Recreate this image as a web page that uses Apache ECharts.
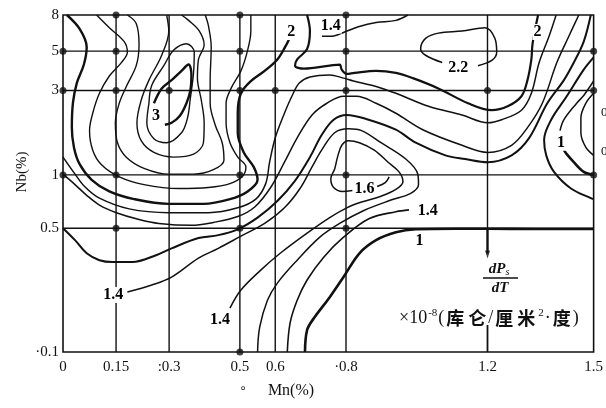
<!DOCTYPE html>
<html><head><meta charset="utf-8">
<script src="https://cdn.jsdelivr.net/npm/echarts@6/dist/echarts.min.js"></script>
<style>html,body{margin:0;padding:0;background:#fff}#c{width:606px;height:408px}</style>
</head><body><div id="c"></div>
<script>
// ---- axis ticks ----
const mnTicks = [0, 0.15, 0.3, 0.5, 0.6, 0.8, 1.2, 1.5];
const mnTickLabels = ['0', '0.15', ':0.3', '0.5', '0.6', '·0.8', '1.2', '1.5'];
const nbTicks = [0.1, 0.5, 1, 3, 5, 8];
const nbTickLabels = ['·0.1', '0.5', '1', '3', '5', '8'];

// ---- measurement points [Mn, Nb] ----
const dotPoints = [[0.15,8],[0.5,8],[0.8,8],[0,5],[0.15,5],[0.5,5],[0.8,5],[1.5,5],
  [0,3],[0.15,3],[0.3,3],[0.5,3],[0.6,3],[0.8,3],[1.2,3],[1.5,3],
  [0,1],[0.15,1],[0.5,1],[0.8,1],[1.5,1],[0.15,0.5],[0.5,0.5],[0.8,0.5],[0.5,0.1]];

// ---- contour lines, points [Mn, Nb] ----
const lineG1 = [[0.011,8],[0.047,6.68],[0.067,5.28],[0.059,4.20],[0.039,3.30],[0.028,2.54],[0.025,1.85],[0.031,1.43],[0.047,1.15],[0.081,0.939],[0.131,0.807],[0.201,0.730],[0.299,0.686],[0.397,0.686],[0.472,0.730],[0.522,0.807],[0.55,0.939],[0.539,1.11],[0.511,1.34],[0.494,1.73],[0.494,2.23],[0.503,2.89],[0.531,3.39],[0.57,3.87],[0.606,4.49],[0.628,5.28],[0.64,5.90]];
const lineG2 = [[0.095,8],[0.131,6.78],[0.173,5.66],[0.182,4.93],[0.165,4.31],[0.131,3.62],[0.103,2.89],[0.084,2.23],[0.075,1.78],[0.084,1.38],[0.109,1.14],[0.159,0.975],[0.229,0.882],[0.327,0.838],[0.411,0.849],[0.472,0.893],[0.508,0.987],[0.517,1.11],[0.494,1.26],[0.472,1.52],[0.461,1.97],[0.461,2.54],[0.475,3.08],[0.503,3.87],[0.522,5.07],[0.531,6.50],[0.531,8]];
const lineG3 = [[0.182,8],[0.207,7.16],[0.215,5.43],[0.207,4.14],[0.179,3.16],[0.159,2.54],[0.148,1.97],[0.154,1.52],[0.179,1.26],[0.229,1.09],[0.299,1.01],[0.369,1.01],[0.425,1.07],[0.455,1.21],[0.45,1.52],[0.43,1.92],[0.416,2.54],[0.416,3.43],[0.419,5.28],[0.411,6.97],[0.402,8]];
const lineG4 = [[0.293,8],[0.299,6.50],[0.279,4.74],[0.243,3.43],[0.221,2.64],[0.209,1.97],[0.221,1.56],[0.257,1.34],[0.313,1.26],[0.369,1.31],[0.397,1.52],[0.399,1.97],[0.391,2.64],[0.38,3.52],[0.383,4.49],[0.399,5.43],[0.385,6.50],[0.355,7.46],[0.335,8]];
const lineG5 = [[0.243,2.54],[0.251,3.21],[0.285,4.14],[0.313,5.07],[0.349,5.51],[0.371,4.93],[0.369,3.77],[0.36,2.71],[0.352,2.10],[0.335,1.73],[0.293,1.52],[0.257,1.60],[0.237,1.97],[0.243,2.54]];
const lineG6 = [[0.257,2.54],[0.279,3.08],[0.307,3.43],[0.335,3.87],[0.355,4.20],[0.363,3.67],[0.36,3.00],[0.349,2.54],[0.33,2.15],[0.307,1.97],[0.288,1.92]];
const lineR1 = [[0.69,8],[0.698,6.50],[0.69,5.14],[0.662,4.49],[0.656,4.14],[0.681,3.98],[0.754,4.14],[0.782,4.20],[0.788,3.93],[0.802,3.72],[0.824,3.77],[0.885,3.87],[0.941,3.77],[0.989,3.52],[1.061,3.08],[1.145,2.54],[1.212,2.32],[1.257,2.44],[1.296,2.78],[1.313,3.43],[1.324,4.49],[1.327,5.43],[1.335,6.68],[1.343,8]];
const lineR2 = [[0,1.26],[0.034,1.01],[0.061,0.860],[0.103,0.739],[0.187,0.643],[0.299,0.612],[0.411,0.612],[0.494,0.652],[0.545,0.730],[0.573,0.893],[0.584,1.18],[0.6,1.62],[0.626,2.23],[0.648,2.81],[0.668,3.30],[0.698,3.57],[0.754,3.67],[0.793,3.52],[0.821,3.39],[0.885,3.16],[0.941,2.89],[1.033,2.44],[1.128,2.18],[1.201,1.97],[1.24,2.05],[1.296,2.32],[1.324,2.89],[1.346,4.31],[1.374,6.07],[1.394,8]];
const lineB1 = [[0,1.01],[0.034,0.882],[0.067,0.767],[0.103,0.676],[0.151,0.612],[0.215,0.560],[0.271,0.532],[0.363,0.519],[0.425,0.539],[0.494,0.582],[0.542,0.659],[0.587,0.849],[0.626,1.18],[0.662,1.62],[0.704,2.18],[0.746,2.54],[0.793,2.78],[0.83,2.78],[0.885,2.54],[0.941,2.23],[1.017,1.80],[1.128,1.47],[1.201,1.34],[1.268,1.47],[1.313,1.85],[1.355,2.54],[1.396,4.31],[1.43,6.07],[1.458,8]];
const lineB2 = [[0,0.5],[0.034,0.428],[0.067,0.361],[0.103,0.330],[0.14,0.322],[0.196,0.322],[0.263,0.352],[0.307,0.385],[0.383,0.440],[0.439,0.457],[0.494,0.493],[0.55,0.574],[0.606,0.712],[0.654,0.916],[0.698,1.26],[0.732,1.69],[0.765,2.05],[0.802,2.18],[0.857,2.07],[0.941,1.80],[0.997,1.52],[1.081,1.29],[1.137,1.23],[1.201,1.18],[1.268,1.29],[1.318,1.62],[1.369,2.54],[1.416,3.43],[1.444,4.31],[1.472,5.66],[1.492,8]];
const lineB3 = [[0.182,0.218],[0.251,0.239],[0.307,0.265],[0.383,0.339],[0.439,0.385],[0.503,0.451],[0.57,0.532],[0.626,0.652],[0.67,0.838],[0.704,1.11],[0.732,1.39],[0.768,1.73],[0.807,1.82],[0.844,1.78],[0.899,1.52],[0.969,1.23],[1.003,1.01],[1.005,0.882],[0.983,0.787],[0.927,0.721],[0.849,0.628],[0.782,0.532],[0.726,0.445],[0.662,0.330],[0.606,0.245],[0.578,0.196],[0.556,0.138],[0.55,0.1]];
const lineF2 = [[0.472,0.177],[0.503,0.224],[0.559,0.290],[0.614,0.361],[0.69,0.469],[0.754,0.574],[0.802,0.652],[0.844,0.703],[0.899,0.758],[0.941,0.828],[0.961,0.916],[0.95,1.04],[0.919,1.18],[0.88,1.38],[0.838,1.52],[0.807,1.56],[0.788,1.47],[0.776,1.26],[0.768,1.08],[0.757,0.951],[0.765,0.849],[0.79,0.807],[0.818,0.817]];
const lineF2b = [[0.888,0.860],[0.911,0.904],[0.922,0.975]];
const lineB6 = [[0.634,0.1],[0.642,0.146],[0.662,0.196],[0.69,0.255],[0.737,0.343],[0.793,0.445],[0.866,0.567],[0.941,0.620],[0.978,0.635]];
const lineT1 = [[0.684,0.1],[0.69,0.133],[0.709,0.155],[0.754,0.204],[0.793,0.265],[0.838,0.361],[0.885,0.428],[0.941,0.474],[0.997,0.493],[1.109,0.497],[1.201,0.497],[1.332,0.495],[1.5,0.495]];
const lineH1 = [[0.732,6.07],[0.76,6.07],[0.796,6.41],[0.835,6.87],[0.885,7.26],[0.941,7.46],[0.975,8]];
const lineH2 = [[1.072,4.31],[1.025,4.74],[1.011,5.14],[1.025,5.90],[1.061,6.32],[1.128,6.50],[1.193,6.78],[1.221,5.90],[1.226,4.93],[1.212,4.43],[1.173,4.14]];
const lineR6 = [[1.5,4.61],[1.472,3.93],[1.424,2.78],[1.38,2.05],[1.36,1.58],[1.366,1.29],[1.388,1.04],[1.436,0.838],[1.492,0.739],[1.5,0.730]];
const lineR7a = [[1.5,3.39],[1.472,2.81],[1.452,2.54],[1.416,2.05],[1.405,1.78]];
const lineR7b = [[1.416,1.38],[1.424,1.31],[1.444,1.18],[1.472,1.04],[1.5,1.0]];
const lineR8 = [[1.5,2.89],[1.478,2.54],[1.464,2.10],[1.464,1.73],[1.478,1.43],[1.5,1.29]];

// ---- contour level labels [Mn, Nb, text] ----
const contourLabels = [[0.263,2.15,'3'],[0.645,6.41,'2'],[0.757,6.97,'1.4'],[1.117,4.03,'2.2'],
  [1.341,6.41,'2'],[1.408,1.52,'1'],[0.852,0.838,'1.6'],[1.031,0.628,'1.4'],[1.008,0.425,'1'],
  [0.142,0.210,'1.4'],[0.444,0.151,'1.4']];

const INK = '#111';
function contour(data, width) {
  return {type:'line', data:data, smooth:0.35, symbol:'none', silent:true, z:3,
    lineStyle:{color:INK, width:width}};
}
function near(a, b) { return Math.abs(a - b) < 1e-6; }

const series = [];
// grid lines through the tick values
mnTicks.filter(v => v > 0 && v < 1.5 && !near(v, 1.2)).forEach(v => {
  series.push({type:'line', data:[[v, nbTicks[0]], [v, nbTicks[nbTicks.length-1]]], symbol:'none', silent:true, z:2, lineStyle:{color:INK, width:1.4}});
});
nbTicks.filter(v => v > 0.1 && v < 8).forEach(v => {
  series.push({type:'line', data:[[mnTicks[0], v], [mnTicks[mnTicks.length-1], v]], symbol:'none', silent:true, z:2, lineStyle:{color:INK, width:1.4}});
});
// the 1.2 line, broken by the annotation, with an arrow
series.push({type:'line', data:[[1.2, 8], [1.2, 0.5]], symbol:'none', silent:true, z:2, lineStyle:{color:INK, width:1.4}});
series.push({type:'line', data:[[1.2, 0.5], [1.2, 0.36]], symbol:'none', silent:true, z:2, lineStyle:{color:INK, width:2.4}});
series.push({type:'scatter', data:[[1.2, 0.355]], symbol:'triangle', symbolRotate:180, symbolSize:[5, 8], silent:true, z:2, itemStyle:{color:INK}});
series.push({type:'line', data:[[1.2, 0.142], [1.2, 0.1]], symbol:'none', silent:true, z:2, lineStyle:{color:INK, width:1.8}});

[[lineG1,2.4],[lineG2,1.4],[lineG3,1.4],[lineG4,1.4],[lineG5,1.4],[lineG6,2.4],
 [lineR1,2.2],[lineR2,1.5],[lineB1,1.5],[lineB2,2.0],[lineB3,1.5],[lineF2,1.5],[lineF2b,1.5],
 [lineB6,1.6],[lineT1,2.6],[lineH1,1.5],[lineH2,1.5],[lineR6,2.0],[lineR7a,1.5],[lineR7b,2.6],[lineR8,1.5]]
 .forEach(p => series.push(contour(p[0], p[1])));

series.push({type:'scatter', data:dotPoints, symbolSize:7, silent:true, z:6, itemStyle:{color:INK}, clip:false});
series.push({type:'scatter', silent:true, z:7, symbolSize:2, itemStyle:{color:'rgba(255,255,255,0)'},
  data: contourLabels.map(d => ({value:[d[0], d[1]], label:{formatter:d[2]}})),
  label:{show:true, position:'inside', color:'#000', opacity:1, textBorderWidth:0, fontFamily:'Liberation Serif', fontWeight:'bold', fontSize:16, backgroundColor:'#fff', padding:[0,1]},
  labelLayout:{hideOverlap:false}});

const chart = echarts.init(document.getElementById('c'), null, {renderer:'canvas'});
const SERIF = '"Liberation Serif"';
chart.setOption({
  animation:false,
  backgroundColor:'#fff',
  grid:{left:63, top:15, width:537, height:337, show:true, borderColor:INK, borderWidth:1.6, backgroundColor:'transparent'},
  xAxis:{type:'value', min:0, max:1.5, axisLine:{show:false}, axisTick:{show:false}, splitLine:{show:false},
    axisLabel:{customValues:mnTicks, margin:8, color:INK, fontFamily:'Liberation Serif', fontSize:15,
      formatter: v => { const i = mnTicks.findIndex(t => near(t, v)); return i >= 0 ? mnTickLabels[i] : ''; }}},
  yAxis:{type:'log', logBase:10, min:0.1, max:8, axisLine:{show:false}, axisTick:{show:false}, splitLine:{show:false}, minorSplitLine:{show:false},
    axisLabel:{customValues:nbTicks, margin:4, color:INK, fontFamily:'Liberation Serif', fontSize:15,
      formatter: v => { const i = nbTicks.findIndex(t => Math.abs(t - v) < 1e-4); return i >= 0 ? nbTickLabels[i] : ''; }}},
  graphic:[
    {type:'text', x:22, y:172, rotation:Math.PI/2, style:{text:'Nb(%)', fill:INK, font:'15px ' + SERIF, align:'center', verticalAlign:'middle'}},
    {type:'text', x:291, y:391, style:{text:'Mn(%)', fill:INK, font:'16px ' + SERIF, align:'center', verticalAlign:'middle'}},
    {type:'text', x:243, y:389, style:{text:'∘', fill:INK, font:'12px "DejaVu Sans"', align:'center', verticalAlign:'middle'}},
    {type:'text', x:499, y:269, style:{text:'{i|dP}{s|s}', fill:INK, align:'center', verticalAlign:'middle',
      rich:{i:{fontFamily:'Liberation Serif', fontStyle:'italic', fontWeight:'bold', fontSize:15, fill:INK, lineHeight:16},
            s:{fontFamily:'Liberation Serif', fontStyle:'italic', fontSize:10, fill:INK, verticalAlign:'bottom', lineHeight:16, padding:[4,0,0,0]}}}},
    {type:'line', shape:{x1:483, y1:278, x2:518, y2:278}, style:{stroke:INK, lineWidth:1.5}},
    {type:'text', x:500, y:288, style:{text:'dT', fill:INK, font:'italic bold 15px ' + SERIF, align:'center', verticalAlign:'middle'}},
    {type:'text', x:399, y:318, style:{
      text:'{a|×10}{p|-8}{a|(}{c|库}{c|仑}{a|/}{c|厘}{c|米}{p|2}{a|·}{c|度}{a|)}',
      align:'left', verticalAlign:'middle',
      rich:{
        a:{fontFamily:'Liberation Serif', fontSize:18, fill:INK, lineHeight:20},
        p:{fontFamily:'Liberation Serif', fontSize:11, fill:INK, verticalAlign:'top', lineHeight:20, padding:[0,1,8,1]},
        c:{fontFamily:'Noto Sans CJK SC', fontWeight:'bold', fontSize:18, fill:INK, lineHeight:20, padding:[0,2]}
      }}},
    {type:'text', x:601, y:113, style:{text:'0', fill:INK, font:'13px ' + SERIF, align:'left', verticalAlign:'middle'}},
    {type:'text', x:601, y:152, style:{text:'0', fill:INK, font:'13px ' + SERIF, align:'left', verticalAlign:'middle'}}
  ],
  series: series
});
</script></body></html>
